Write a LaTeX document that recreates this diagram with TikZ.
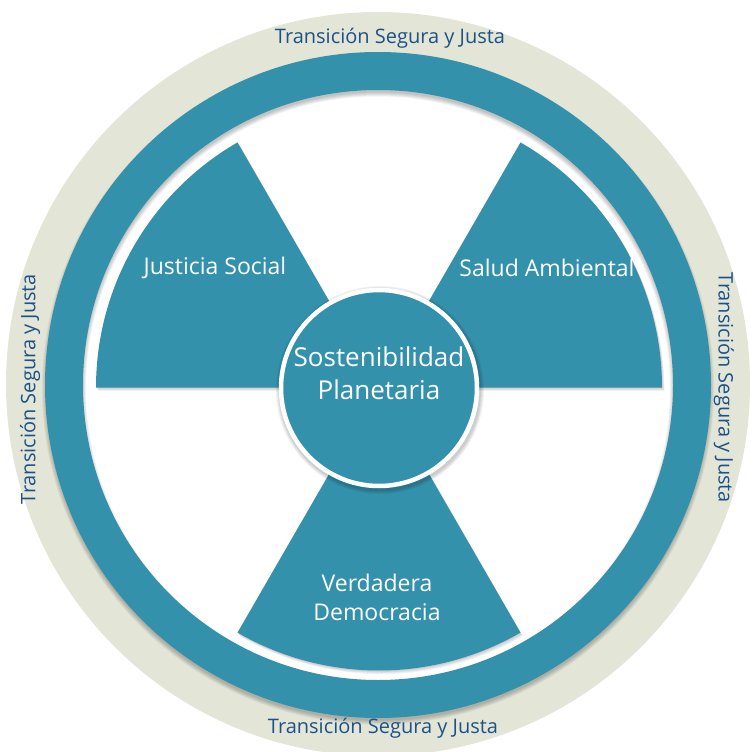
\documentclass[tikz,border=0pt]{standalone}
\usepackage{fontspec}
\setmainfont{Open Sans}
\definecolor{tealc}{RGB}{52,145,172}
\definecolor{beigec}{RGB}{227,229,215}
\definecolor{ringtxt}{RGB}{28,82,135}
\tikzset{
  ringlabel/.style={text=ringtxt, font=\fontsize{20}{24}\selectfont, inner sep=0pt},
  seclabel/.style={text=white, font=\fontsize{23}{29}\selectfont, align=center, inner sep=0pt},
  corelabel/.style={text=white, font=\fontsize{26}{33}\selectfont, align=center, inner sep=0pt},
  sectorfill/.style={fill=tealc},
  softshadow/.style={fill=black, opacity=0.05}
}
\begin{document}
\begin{tikzpicture}[x=1pt,y=1pt]
\useasboundingbox (0,0) rectangle (755,-752);
\coordinate (C) at (379,-387.5);
\coordinate (R) at (378,-385);
% beige outer disc
\begin{scope}
\clip (0,0) rectangle (755,-752);
\fill[beigec] (378,-384) circle[radius=372];
\end{scope}
% white inner field
\fill[white] (R) circle[radius=296];
% shadow of teal ring
\foreach \w in {0,2,4,6,8}{
  \draw[black, opacity=0.05, line width=36+\w] (378,-388.5) circle[radius=314];
}
% teal ring
\fill[tealc, even odd rule] (R) circle[radius=333] circle[radius=295];
% sector shadows
\foreach \a in {0,120,240}{
  \foreach \s in {1,2,3,4}{
    \fill[softshadow] ([shift={(0.6*\s,-0.9*\s)}]C) -- ++(\a:283) arc[start angle=\a, end angle=\a+60, radius=283] -- cycle;
  }
}
% sectors
\foreach \a in {0,120,240}{
  \fill[sectorfill] (C) -- ++(\a:283) arc[start angle=\a, end angle=\a+60, radius=283] -- cycle;
}
% core shadow
\foreach \s in {1,2,3,4}{
  \fill[softshadow] (380,-390) circle[radius=100+\s];
}
\node[circle, fill=tealc, draw=white, line width=4.5pt, minimum size=196pt, inner sep=0pt] (core) at (379,-388) {};
\node[corelabel] (coretext) at (379,-373) {Sostenibilidad\\Planetaria};
% sector labels
\node[seclabel] (js) at (215,-268) {Justicia Social};
\node[seclabel] (sa) at (547,-268) {Salud Ambiental};
\node[seclabel] (vd) at (377,-597) {Verdadera\\Democracia};
% ring labels
\node[ringlabel] (top) at (390,-38) {Transición Segura y Justa};
\node[ringlabel] (bot) at (383,-728) {Transición Segura y Justa};
\node[ringlabel, rotate=90] (lft) at (30,-389) {Transición Segura y Justa};
\node[ringlabel, rotate=-90] (rgt) at (724,-388) {Transición Segura y Justa};
\end{tikzpicture}
\end{document}
